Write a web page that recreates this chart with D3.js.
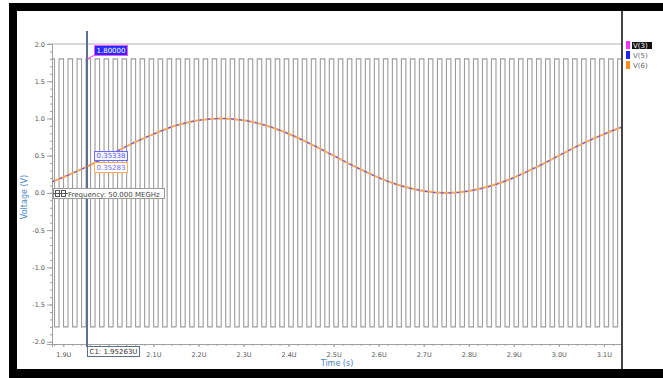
<!DOCTYPE html>
<html>
<head>
<meta charset="utf-8">
<script src="https://cdn.jsdelivr.net/npm/d3@7"></script>
<style>
body { margin: 0; background: #fff; }
text { font-family: "DejaVu Sans", sans-serif; }
</style>
</head>
<body>
<div id="chart"></div>
<script>
var yTicks = [2.0, 1.5, 1.0, 0.5, 0.0, -0.5, -1.0, -1.5, -2.0];
var xTicks = [1.9, 2.0, 2.1, 2.2, 2.3, 2.4, 2.5, 2.6, 2.7, 2.8, 2.9, 3.0, 3.1];
var xTickLabels = ["1.9U", "2.0U", "2.1U", "2.2U", "2.3U", "2.4U", "2.5U",
    "2.6U", "2.7U", "2.8U", "2.9U", "3.0U", "3.1U"];
// V(5) / V(6): slow sine (time in us)
var sineTimes = [1.875, 1.90, 1.95, 2.00, 2.05, 2.10, 2.15, 2.20, 2.25, 2.30,
    2.35, 2.40, 2.45, 2.50, 2.55, 2.60, 2.65, 2.70, 2.75, 2.80, 2.85, 2.90,
    2.95, 3.00, 3.05, 3.10, 3.14];
var v5Values = [0.15, 0.21, 0.345, 0.50, 0.655, 0.79, 0.905, 0.975, 1.0, 0.975,
    0.905, 0.795, 0.655, 0.50, 0.345, 0.205, 0.095, 0.025, 0.0, 0.025, 0.095,
    0.205, 0.345, 0.50, 0.655, 0.79, 0.885];
var v6Values = [0.15, 0.21, 0.345, 0.50, 0.655, 0.79, 0.905, 0.975, 1.0, 0.975,
    0.905, 0.795, 0.655, 0.50, 0.345, 0.205, 0.095, 0.025, 0.0, 0.025, 0.095,
    0.205, 0.345, 0.50, 0.655, 0.79, 0.885];
// V(3): 50 MHz clock, rising edge times and level
var clockRises = [1.8705, 1.8905, 1.9105, 1.9305, 1.9505, 1.9705, 1.9905, 2.0105,
    2.0305, 2.0505, 2.0705, 2.0905, 2.1105, 2.1305, 2.1505, 2.1705, 2.1905,
    2.2105, 2.2305, 2.2505, 2.2705, 2.2905, 2.3105, 2.3305, 2.3505, 2.3705,
    2.3905, 2.4105, 2.4305, 2.4505, 2.4705, 2.4905, 2.5105, 2.5305, 2.5505,
    2.5705, 2.5905, 2.6105, 2.6305, 2.6505, 2.6705, 2.6905, 2.7105, 2.7305,
    2.7505, 2.7705, 2.7905, 2.8105, 2.8305, 2.8505, 2.8705, 2.8905, 2.9105,
    2.9305, 2.9505, 2.9705, 2.9905, 3.0105, 3.0305, 3.0505, 3.0705, 3.0905,
    3.1105, 3.1305];
var clockHighWidth = 0.01;
var clockLevels = [-1.8, 1.8];
var cursorTime = 1.95263;
var cursorValues = ["1.80000", "0.35338", "0.35283"];
var legendNames = ["V(3)", "V(5)", "V(6)"];
var legendColours = ["#ff33ff", "#2222ff", "#ff8c1a"];

var chartWidth = 663, chartHeight = 378;
var plotLeft = 52, plotRight = 621, plotTop = 44, plotBottom = 344;

var svg = d3.select("#chart").append("svg")
    .attr("width", chartWidth)
    .attr("height", chartHeight);

// frame
svg.append("rect").attr("x", 9).attr("y", 3).attr("width", 654).attr("height", 8).attr("fill", "#000");
svg.append("rect").attr("x", 9).attr("y", 3).attr("width", 8).attr("height", 375).attr("fill", "#000");
svg.append("rect").attr("x", 9).attr("y", 369).attr("width", 654).attr("height", 9).attr("fill", "#000");

// scales
var x = d3.scaleLinear().domain([1.8749, 3.138]).range([plotLeft, plotRight]);
var y = d3.scaleLinear().domain([-2.03, 2.0]).range([plotBottom, plotTop]);

svg.append("clipPath").attr("id", "plotClip")
    .append("rect").attr("x", plotLeft).attr("y", plotTop)
    .attr("width", plotRight - plotLeft).attr("height", plotBottom - plotTop);

// top border of the plot
svg.append("line")
    .attr("x1", plotLeft - 4).attr("x2", plotRight)
    .attr("y1", plotTop).attr("y2", plotTop)
    .attr("stroke", "#b0b0b0");

// axes
var yMinor = svg.append("g")
    .attr("transform", "translate(" + plotLeft + ",0)")
    .call(d3.axisLeft(y).ticks(40).tickSize(2).tickFormat(""));
var yAxis = svg.append("g")
    .attr("transform", "translate(" + plotLeft + ",0)")
    .call(d3.axisLeft(y).tickValues(yTicks).tickSize(5).tickPadding(2)
        .tickFormat((d) => {return d.toFixed(1)}));
var xMinor = svg.append("g")
    .attr("transform", "translate(0," + plotBottom + ")")
    .call(d3.axisBottom(x).ticks(60).tickSize(2).tickFormat(""));
var xAxis = svg.append("g")
    .attr("transform", "translate(0," + plotBottom + ")")
    .call(d3.axisBottom(x).tickValues(xTicks).tickSize(3).tickPadding(5)
        .tickFormat((d, i) => {return xTickLabels[i]}));
[yMinor, yAxis, xMinor, xAxis].forEach((g) => {
    g.selectAll("path").attr("stroke", "#a0a0a0");
    g.selectAll("line").attr("stroke", "#a0a0a0");
    g.selectAll("text").attr("fill", "#555").style("font-size", "6.5px");
});

// clock trace
var clockPts = [[x.domain()[0], clockLevels[1]]];
clockRises.forEach((r) => {
    clockPts.push([r - clockHighWidth, clockLevels[1]]);
    clockPts.push([r - clockHighWidth, clockLevels[0]]);
    clockPts.push([r, clockLevels[0]]);
    clockPts.push([r, clockLevels[1]]);
});
clockPts.push([x.domain()[1], clockLevels[1]]);
var plot = svg.append("g").attr("clip-path", "url(#plotClip)");
plot.append("path")
    .attr("d", d3.line().x((d) => {return x(d[0])}).y((d) => {return y(d[1])})(clockPts))
    .attr("fill", "none")
    .attr("stroke", "#9c9c9c")
    .attr("stroke-width", 1.1);

// sine traces
var sineLine = d3.line().curve(d3.curveCatmullRom)
    .x((d, i) => {return x(sineTimes[i])})
    .y((d) => {return y(d)});
plot.append("path").attr("d", sineLine(v6Values))
    .attr("fill", "none").attr("stroke", "#f7a55c").attr("stroke-width", 2);
plot.append("path").attr("d", sineLine(v5Values))
    .attr("fill", "none").attr("stroke", "#5a5aff").attr("stroke-width", 1.1)
    .attr("stroke-dasharray", "3,5");

// cursor
var cx = x(cursorTime);
svg.append("line")
    .attr("x1", cx).attr("x2", cx).attr("y1", 31).attr("y2", 347)
    .attr("stroke", "#5b6f90").attr("stroke-width", 2);
var sineY = y(+cursorValues[1]);
svg.append("line").attr("x1", cx).attr("y1", y(clockLevels[1]))
    .attr("x2", 95).attr("y2", 55).attr("stroke", "#ff33ff");
svg.append("line").attr("x1", cx).attr("y1", sineY)
    .attr("x2", 95).attr("y2", 162).attr("stroke", "#ffaa55");

function valueBox(bx, by, bw, bh, fill, stroke, colour, label) {
    svg.append("rect").attr("x", bx).attr("y", by).attr("width", bw).attr("height", bh)
        .attr("fill", fill).attr("stroke", stroke);
    svg.append("text").attr("x", bx + 2).attr("y", by + bh - 2.5)
        .attr("fill", colour).style("font-size", "7px").text(label);
}
valueBox(94.5, 45.5, 33, 10, "#2a2aff", "#ff55ff", "#fff", cursorValues[0]);
valueBox(94.5, 151.5, 33, 9, "#f4f4ff", "#6a6aff", "#5a5aff", cursorValues[1]);
valueBox(94.5, 162.5, 33, 10, "#fff", "#ffaa55", "#6a6aff", cursorValues[2]);

// frequency annotation
svg.append("rect").attr("x", 53.5).attr("y", 188.5).attr("width", 111).attr("height", 10)
    .attr("fill", "#fff").attr("stroke", "#9a9a9a");
svg.append("rect").attr("x", 55.5).attr("y", 190.5).attr("width", 4).attr("height", 6)
    .attr("fill", "none").attr("stroke", "#555");
svg.append("rect").attr("x", 61.5).attr("y", 190.5).attr("width", 4).attr("height", 6)
    .attr("fill", "none").attr("stroke", "#555");
svg.append("line").attr("x1", 53).attr("x2", 68).attr("y1", 193.5).attr("y2", 193.5)
    .attr("stroke", "#555");
svg.append("text").attr("x", 68).attr("y", 196.5)
    .attr("fill", "#444").style("font-size", "7px")
    .text("Frequency: 50.000 MEGHz");

// cursor time box
valueBox(87.5, 346.5, 52, 10, "#fff", "#5b6f90", "#333", "C1: 1.95263U");

// axis titles
svg.append("text")
    .attr("transform", "translate(27,197) rotate(-90)")
    .attr("text-anchor", "middle")
    .attr("fill", "#4a86c5").style("font-size", "8px")
    .text("Voltage (V)");
svg.append("text")
    .attr("x", 337).attr("y", 366)
    .attr("text-anchor", "middle")
    .attr("fill", "#4a86c5").style("font-size", "8px")
    .text("Time (s)");

// right edge of the plot window
svg.append("rect").attr("x", 621).attr("y", 11).attr("width", 2).attr("height", 358)
    .attr("fill", "#444");

// legend
legendNames.forEach((name, i) => {
    var ly = 41 + i * 10;
    svg.append("rect").attr("x", 626).attr("y", ly).attr("width", 4).attr("height", 8)
        .attr("fill", legendColours[i]);
    if (i == 0) {
        svg.append("rect").attr("x", 632).attr("y", ly + 1).attr("width", 20).attr("height", 7)
            .attr("fill", "#111");
    }
    svg.append("text").attr("x", 633).attr("y", ly + 7)
        .attr("fill", i == 0 ? "#fff" : "#666").style("font-size", "7px")
        .text(name);
});
</script>
</body>
</html>
